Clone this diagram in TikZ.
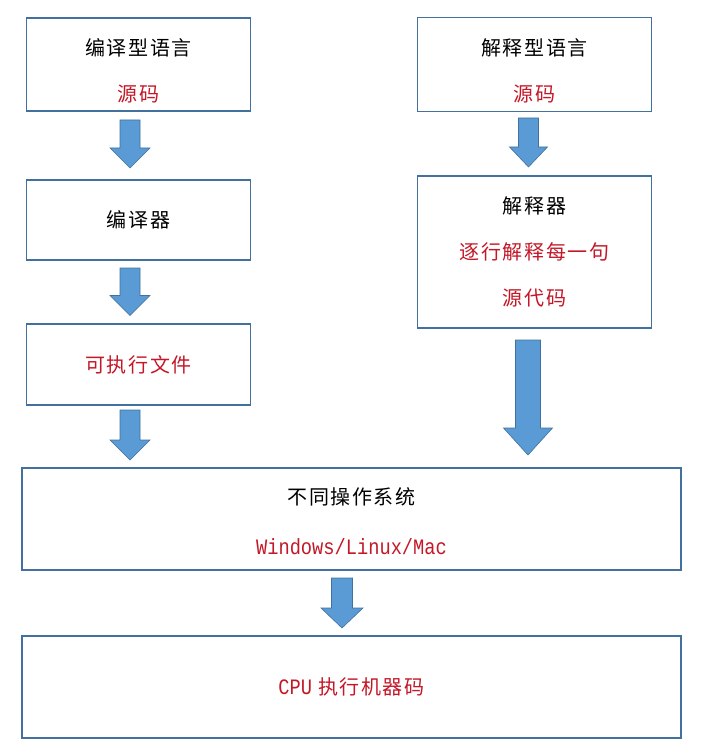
\documentclass[tikz,border=0pt]{standalone}
\usepackage{fontspec}
\setmainfont{Noto Sans CJK SC}[LetterSpace=8]
\newfontfamily\latinfont{Liberation Mono}[FakeStretch=0.85]
\usetikzlibrary{positioning,calc}
\definecolor{boxline}{RGB}{65,113,156}
\definecolor{arrfill}{RGB}{91,155,213}
\definecolor{hot}{RGB}{196,24,40}

\begin{document}
\begin{tikzpicture}[x=1pt,y=-1pt,font=\fontsize{20}{46}\selectfont,
  box/.style={draw=boxline,line width=1.8pt,fill=white,outer sep=0pt,
    align=center,minimum width=224pt},
  rbox/.style={box,minimum width=234pt},
  wbox/.style={box,minimum width=659pt,minimum height=102pt},
  blk/.style n args={3}{fill=arrfill,draw=boxline,line width=0.6pt,
    to path={($(\tikztostart)+(-#1,0)$) -- ($(\tikztotarget)+(-#1,-#3)$)
      -- ($(\tikztotarget)+(-#2,-#3)$) -- (\tikztotarget)
      -- ($(\tikztotarget)+(#2,-#3)$) -- ($(\tikztotarget)+(#1,-#3)$)
      -- ($(\tikztostart)+(#1,0)$) -- cycle}}]
\useasboundingbox (0,0) rectangle (705,746);
% left column: compiled language
\node[box,minimum height=93pt] (src1) at (138.5,64.5) {\rule{0pt}{29pt}编译型语言\\\textcolor{hot}{源码}};
\node[box,minimum height=80pt,below=69pt of src1] (cmp) {编译器};
\node[box,minimum height=81pt,below=64pt of cmp] (exe) {\textcolor{hot}{可执行文件}};
% right column: interpreted language
\node[rbox,minimum height=94pt,right=167pt of src1] (src2) {\rule{0pt}{29pt}解释型语言\\\textcolor{hot}{源码}};
\node[rbox,minimum height=152pt,below=64.5pt of src2] (itp) {解释器\\
  \textcolor{hot}{逐行解释每一句}\\\textcolor{hot}{源代码}};
% bottom: OS and CPU
\node[wbox,below right=63pt and -4.5pt of exe.south west] (os) {\rule{0pt}{22pt}不同操作系统\\[4pt]
  \textcolor{hot}{\fontsize{22}{46}\latinfont Windows/Linux/Mac}};
\node[wbox,below=66pt of os] (cpu) {\textcolor{hot}{{\fontsize{22}{46}\latinfont CPU} 执行机器码}};
% block arrows between the boxes
\path (src1.south) ++(-8.5,9) coordinate (a1) (cmp.north) ++(-8.5,-12) coordinate (b1);
\path (cmp.south) ++(-8.5,8) coordinate (a2) (exe.north) ++(-8.5,-8.5) coordinate (b2);
\path (exe.south) ++(-8.5,5) coordinate (a3) (exe.south|-os.north) ++(-8.5,-8) coordinate (b3);
\path (src2.south) ++(-6,6.5) coordinate (a4) (itp.north) ++(-6,-9) coordinate (b4);
\path (itp.south) ++(-6.5,12) coordinate (a5) (itp.south|-os.north) ++(-6.5,-13) coordinate (b5);
\path (os.south) ++(-9.5,8) coordinate (a6) (cpu.north) ++(-9.5,-8) coordinate (b6);
\draw[blk={10}{20}{20}] (a1) to (b1);
\draw[blk={10}{20}{20}] (a2) to (b2);
\draw[blk={10}{20}{20}] (a3) to (b3);
\draw[blk={10}{19}{20}] (a4) to (b4);
\draw[blk={12.5}{24.5}{27}] (a5) to (b5);
\draw[blk={10.5}{21}{20}] (a6) to (b6);
\end{tikzpicture}
\end{document}
